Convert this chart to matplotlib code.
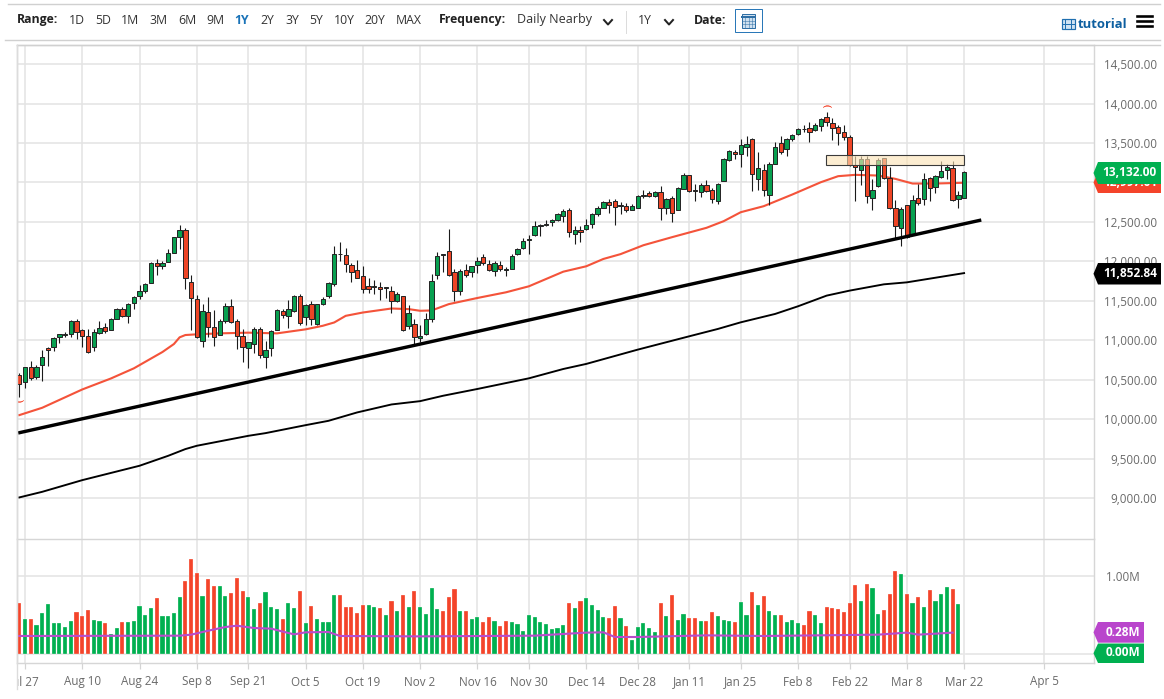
import matplotlib
matplotlib.use("Agg")
import matplotlib.pyplot as plt
from matplotlib.patches import Rectangle, Polygon
from matplotlib.transforms import Bbox, IdentityTransform, TransformedBbox

plt.rcParams['font.family'] = ['Open Sans', 'DejaVu Sans']

opens = [10558,10478,10668,10541,10685,10900,10921,11040,11065,11078,
11251,11128,11061,10913,11099,11166,11132,11272,11402,11314,
11470,11567,11622,11727,11976,11947,11989,12103,12314,12398,
11736,11521,10997,11364,11175,11073,11251,11440,11242,11052,
10909,10951,11149,10795,10904,11137,11377,11310,11369,11559,
11297,11461,11208,11461,11557,11717,12089,12080,11954,11895,
11819,11696,11675,11683,11667,11629,11494,11561,11177,11211,
11029,11076,11266,11831,12076,12139,11861,11629,11895,11861,
11958,12059,11971,11878,11958,11890,11911,12097,12169,12274,
12333,12452,12464,12494,12527,12578,12658,12342,12393,12409,
12473,12603,12679,12751,12764,12705,12705,12658,12679,12835,
12865,12835,12886,12679,12801,12654,12924,13092,12911,12881,
12974,12911,12772,13025,13287,13392,13367,13455,13552,13046,
13152,12848,13232,13502,13426,13557,13616,13675,13696,13662,
13713,13831,13755,13700,13641,13578,13223,13164,13303,12801,
12953,13312,13059,12679,12430,12713,12354,12810,12789,13055,
12945,13067,13160,13181,12797,12806]
closes = [10445,10664,10525,10664,10786,10879,11035,11078,11082,11251,
11111,11061,10858,11111,11162,11124,11276,11398,11314,11466,
11550,11622,11715,11985,11943,11981,12103,12306,12403,11787,
11537,11048,11377,11166,11048,11251,11440,11238,11061,10913,
10976,11141,10820,10875,11124,11381,11322,11394,11567,11217,
11453,11267,11457,11529,11726,12097,12101,11970,11873,11793,
11650,11658,11692,11650,11675,11494,11586,11127,11342,11046,
11059,11266,11759,12072,12089,11823,11624,11882,11827,11937,
12004,11975,11895,11979,11903,11903,12072,12152,12257,12287,
12452,12460,12477,12527,12599,12641,12367,12401,12367,12464,
12599,12671,12751,12717,12684,12717,12654,12705,12831,12848,
12835,12881,12683,12793,12611,12928,13097,12890,12894,12970,
12898,12797,12983,13295,13396,13358,13472,13489,13105,13181,
12907,13236,13451,13392,13548,13599,13683,13683,13641,13730,
13806,13768,13696,13628,13574,13223,13190,13303,12827,12911,
13282,13055,12679,12451,12666,12312,12784,12738,13046,12932,
13076,13143,13190,12776,12844,13132]
highs = [10584,10664,10740,10689,10879,10921,11048,11082,11107,11259,
11267,11141,11141,11149,11251,11217,11284,11411,11419,11478,
11563,11698,11732,11993,12031,12010,12154,12306,12457,12420,
11829,11571,11461,11550,11386,11276,11470,11521,11267,11149,
10980,11166,11166,10997,11132,11394,11394,11512,11575,11584,
11461,11504,11466,11546,11740,12190,12245,12173,11987,12013,
11945,11785,11768,11734,11683,11692,11616,11561,11447,11270,
11202,11346,11840,12114,12097,12409,11903,11911,11971,11945,
12055,12093,12021,12004,12008,11924,12089,12165,12300,12333,
12511,12469,12527,12536,12620,12662,12671,12443,12452,12544,
12612,12705,12772,12789,12789,12755,12738,12722,12840,12911,
12898,12890,12953,12806,12827,12945,13122,13101,12978,12995,
13029,12928,12995,13312,13409,13409,13552,13595,13565,13392,
13232,13257,13510,13586,13565,13620,13696,13730,13763,13755,
13818,13898,13818,13730,13734,13607,13341,13333,13341,13046,
13312,13316,13198,12784,12692,12721,12848,12983,13114,13071,
13101,13274,13232,13266,12890,13143]
lows = [10288,10394,10499,10508,10491,10681,10871,10972,11048,11048,
11023,10921,10837,10871,11082,11090,11128,11267,11293,11217,
11402,11521,11597,11723,11829,11909,11989,12103,12162,11651,
11132,11027,10921,11048,10930,11069,11217,11217,10896,10731,
10647,10837,10774,10647,10803,11132,11289,11153,11360,11200,
11196,11191,11200,11453,11537,11692,12008,11861,11743,11785,
11599,11599,11586,11515,11544,11346,11481,11122,11143,10953,
10975,11067,11236,11776,11869,11810,11502,11574,11798,11798,
11852,11958,11882,11810,11882,11819,11903,12080,12156,12097,
12317,12325,12452,12452,12511,12502,12312,12224,12241,12401,
12426,12578,12671,12620,12468,12603,12629,12646,12671,12806,
12818,12818,12523,12607,12497,12649,12919,12881,12763,12818,
12877,12742,12725,13017,13278,13303,13190,13333,12890,12903,
12827,12721,13228,13367,13341,13523,13607,13637,13514,13650,
13650,13713,13544,13476,13544,13215,12763,12974,12742,12658,
12945,13046,12666,12299,12202,12299,12341,12713,12721,12768,
12869,13059,13046,12763,12683,12801]

volumes = [.658,.449,.449,.372,.521,.637,.393,.397,.350,.423,
.538,.487,.564,.436,.419,.402,.252,.329,.415,.406,
.419,.620,.500,.585,.714,.491,.483,.521,.731,.940,
1.214,1.034,.744,.962,.876,.868,.744,.782,.974,.803,
.731,.577,.658,.795,.603,.573,.449,.650,.585,.808,
.402,.615,.444,.406,.410,.761,.756,.598,.598,.530,
.624,.624,.603,.585,.504,.675,.551,.752,.607,.803,
.603,.513,.846,.581,.556,.735,.838,.547,.556,.449,
.474,.406,.479,.423,.359,.427,.406,.389,.299,.496,
.470,.406,.380,.325,.329,.372,.654,.590,.675,.718,
.628,.564,.474,.462,.611,.457,.359,.175,.346,.393,
.333,.282,.654,.487,.756,.436,.509,.457,.462,.419,
.419,.543,.483,.440,.423,.410,.667,.504,.791,.624,
.744,.551,.496,.500,.410,.432,.393,.368,.556,.496,
.397,.607,.590,.577,.538,.650,.880,.675,.897,.846,
.517,.568,.765,1.060,1.026,.765,.658,.731,.603,.816,
.684,.769,.855,.829,.641,0]
vol_dirs = ("rgrggggggg" "rrrggrggrg" "ggggrggggr" "rrgrrggrrr" "ggrgggrggr"
            "grggggrrrr" "rggrgrgrgr" "ggggrrrgrg" "grrgrrgggg" "ggggggrgrg"
            "gggrrgrggg" "ggrgrggrrg" "rrgggrggrg" "rggrgggrrg" "grrrrrrgrg"
            "grrrgrgrgr" "gggrgg")

ma50_bars = [0,4,11,16,20,25,27,28,29,31,35,40,45,50,53,55,57,60,65,68,70,72,75,80,85,89,95,99,102,105,109,
             114,120,123,126,130,135,140,143,146,150,153,156,160,165]
ma50_vals = [10055,10148,10380,10519,10647,10854,10955,11040,11069,11078,11090,11099,11090,11141,11186,11228,
             11312,11354,11405,11397,11376,11380,11460,11538,11610,11686,11871,11939,12032,12093,12206,
             12308,12426,12510,12624,12700,12848,13004,13080,13097,13088,13046,12987,12987,12997]
# long average
ma200_bars = [0,4,11,21,26,29,31,40,43,50,54,59,65,70,74,80,89,95,99,108,117,122,126,132,136,141,145,151,155,165]
ma200_vals = [9013,9084,9232,9414,9540,9625,9667,9793,9827,9928,9983,10089,10190,10232,10300,10386,10521,10639,
              10703,10884,11053,11146,11230,11336,11433,11568,11631,11711,11736,11853]
# volume average
volma_bars = [0,28,30,33,36,38,41,44,47,48,50,54,56,70,90,99,102,104,108,120,130,150,155,157,163]
volma_vals = [.231,.235,.248,.299,.346,.363,.333,.325,.269,.252,.278,.282,.231,.226,.235,.274,.278,.218,.218,.239,.231,.248,.274,.248,.274]

trend_bars = [-0.2, 168]
trend_vals = [9829, 12525]
box_bars = [140.9, 165]
box_vals = [13223, 13350]

tick_bars = [1,11,21,31,40,50,60,70,80,89,99,108,117,126,136,145,155,165,179]
tick_labels = ['Jul 27','Aug 10','Aug 24','Sep 8','Sep 21','Oct 5','Oct 19','Nov 2','Nov 16','Nov 30',
               'Dec 14','Dec 28','Jan 11','Jan 25','Feb 8','Feb 22','Mar 8','Mar 22','Apr 5']
price_ticks = [9000,9500,10000,10500,11000,11500,12000,12500,13000,13500,14000,14500]

RED = '#f4442a'
GREEN = '#00b050'
GRID = '#e4e4e4'
TEXT = '#6a6a6a'
W, H = 1164, 699
PX = 0.72  # one pixel in points

fig = plt.figure(figsize=(W/100, H/100), dpi=100)
ax = fig.add_axes([17/W, (H-539)/H, (1094-17)/W, (539-45)/H])
vax = fig.add_axes([17/W, (H-663)/H, (1094-17)/W, (663-539)/H])
xlim = ((17-19.3)/5.726, (1094-19.3)/5.726)

# price panel
bars = range(len(opens))
body_cols = ['#08a050' if c >= o else '#ee4526' for o, c in zip(opens, closes)]
ax.plot(ma50_bars, ma50_vals, color='#f4533a', lw=2.1*PX, zorder=2)
ax.plot(ma200_bars, ma200_vals, color='black', lw=1.9*PX, zorder=2)
ax.vlines(bars, lows, highs, color='#1a1a1a', lw=1.1*PX, zorder=3)
ax.bar(bars, [abs(c-o) for o, c in zip(opens, closes)], bottom=[min(o, c) for o, c in zip(opens, closes)],
       width=0.76, color=body_cols, edgecolor='#262626', linewidth=1.0*PX, zorder=4)
ax.plot(trend_bars, trend_vals, color='black', lw=3.4*PX, zorder=5, solid_capstyle='butt')
ax.add_patch(Rectangle((box_bars[0], box_vals[0]), box_bars[1]-box_bars[0], box_vals[1]-box_vals[0],
                       facecolor='#fbe3b5', edgecolor='none', alpha=0.62, zorder=6))
ax.add_patch(Rectangle((box_bars[0], box_vals[0]), box_bars[1]-box_bars[0], box_vals[1]-box_vals[0],
                       facecolor='none', edgecolor='#3a3a3a', linewidth=1.1*PX, zorder=6))
# little high / low markers
ax.plot([141], [highs[141]+65], marker='$\\frown$', color=RED, ms=6, mew=0.3, zorder=5)
ax.plot([0], [lows[0]-60], marker='$\\smile$', color=RED, ms=6, mew=0.3, zorder=5)

ax.set_xlim(xlim)
ax.set_ylim(13000-356.5*12.66, 13000+137.5*12.66)
ax.set_xticks(tick_bars)
ax.set_yticks(price_ticks)
ax.set_yticklabels([f'{p:,.2f}' for p in price_ticks])
ax.yaxis.tick_right()
ax.tick_params(axis='x', length=0, labelbottom=False)
ax.tick_params(axis='y', length=0, pad=63*PX, labelsize=8.4, labelcolor=TEXT)
for t in ax.get_yticklabels():
    t.set_ha('right')
ax.grid(True, color=GRID, lw=1.6*PX)
ax.set_axisbelow(True)

# volume panel
vol_cols = [RED if d == 'r' else GREEN for d in vol_dirs]
vax.bar(bars, volumes, width=0.72, color=vol_cols, edgecolor='white', linewidth=0.2, zorder=3)
vax.plot(volma_bars, volma_vals, color='#b84ccc', lw=2.1*PX, zorder=4)
vax.set_xlim(xlim)
vax.set_ylim(-9/78, 115/78)
vax.set_xticks(tick_bars)
vax.set_xticklabels(tick_labels)
vax.set_yticks([0, 1])
vax.set_yticklabels(['', '1.00M'])
vax.yaxis.tick_right()
vax.tick_params(axis='x', length=4, width=1.2*PX, color='#d4d4d4', labelsize=8.4, labelcolor=TEXT, pad=5)
vax.tick_params(axis='y', length=0, pad=12*PX, labelsize=8.4, labelcolor=TEXT)
vax.grid(True, color=GRID, lw=1.6*PX)
vax.set_axisbelow(True)
clip = TransformedBbox(Bbox([[17, 0], [W, H]]), IdentityTransform())
vax.get_xticklabels()[0].set_clip_box(clip)
vax.get_xticklabels()[0].set_clip_on(True)

for a in (ax, vax):
    for name, s in a.spines.items():
        s.set_color('#d6d6d6')
        s.set_linewidth(1.4*PX)
ax.spines['bottom'].set_visible(False)

# overlay in pixels for the toolbar and price tags
ui = fig.add_axes([0, 0, 1, 1])
ui.set_xlim(0, W)
ui.set_ylim(H, 0)
ui.axis('off')
ui.patch.set_visible(False)

def badge(y, top, bot, right, label, color, z):
    ui.add_patch(Polygon([(1093.5, (top+bot)/2), (1098, top), (right, top), (right, bot), (1098, bot)],
                         closed=True, facecolor=color, edgecolor='none', zorder=z))
    ui.text(right-4, y, label, color='white', fontsize=8.6, fontweight='bold', ha='right', va='center', zorder=z+0.5)

badge(183, 172, 193, 1161, '12,997.01', RED, 5)
badge(172.5, 162, 184, 1161, '13,132.00', GREEN, 6)
badge(273.5, 263, 284.5, 1161, '11,852.84', 'black', 5)
badge(632, 622, 642.7, 1144, '0.28M', '#b945cc', 5)
badge(653, 643.5, 663, 1144, '0.00M', GREEN, 5)

# lines of the toolbar
for y, x0 in [(4, 8), (39.5, 5), (45, 17)]:
    ui.plot([x0, 1160], [y, y], color='#d0d0d0', lw=1.4*PX)
ui.plot([16.5, 16.5], [45, 689], color='#dcdcdc', lw=1.4*PX)
ui.plot([626, 626], [11, 33], color='#dcdcdc', lw=1*PX)

ui.text(17, 20, 'Range:', fontsize=8.8, fontweight='bold', color='#222222', ha='left', va='center')
for cx, s in [(77,'1D'),(103,'5D'),(130,'1M'),(158,'3M'),(187,'6M'),(215,'9M'),(267,'2Y'),(292,'3Y'),
              (316,'5Y'),(344,'10Y'),(375,'20Y'),(409,'MAX')]:
    ui.text(cx, 20, s, fontsize=8.8, color='#333333', ha='center', va='center')
ui.text(242, 20, '1Y', fontsize=8.8, fontweight='bold', color='#1a73b8', ha='center', va='center')
ui.text(439, 20, 'Frequency:', fontsize=8.8, fontweight='bold', color='#222222', ha='left', va='center')
ui.text(517, 20, 'Daily Nearby', fontsize=9, color='#333333', ha='left', va='center')
ui.text(645, 20, '1Y', fontsize=8.8, color='#333333', ha='center', va='center')
ui.text(694, 20, 'Date:', fontsize=8.8, fontweight='bold', color='#222222', ha='left', va='center')
for cx in (608, 669):
    ui.plot([cx-4, cx, cx+4], [20, 24.5, 20], color='#222222', lw=2*PX)

# calendar button
ui.add_patch(Rectangle((735, 9), 27, 23, facecolor='white', edgecolor='#2a78b8', lw=1*PX))
ui.add_patch(Rectangle((742, 14), 13, 14, facecolor='#cfe0ef', edgecolor='#2f6fa5', lw=1*PX))
ui.plot([742, 755], [17, 17], color='#2f6fa5', lw=2*PX)
for gx in (745, 748.5, 752):
    ui.plot([gx, gx], [17, 28], color='#2f6fa5', lw=0.5*PX)
for gy in (20.5, 24):
    ui.plot([742, 755], [gy, gy], color='#2f6fa5', lw=0.5*PX)

# tutorial link
ui.add_patch(Rectangle((1061.5, 18.5), 13, 10.5, facecolor='#cfe3f3', edgecolor='#1f6fb0', lw=1.2*PX))
for gx in (1065, 1071):
    ui.plot([gx, gx], [18.5, 29], color='#1f6fb0', lw=1*PX)
ui.plot([1061.5, 1074.5], [23.7, 23.7], color='#1f6fb0', lw=1*PX)
ui.text(1078, 24.5, 'tutorial', fontsize=9.4, fontweight='bold', color='#0d5fa0', ha='left', va='center')
for y in (16, 21, 26):
    ui.plot([1137, 1152], [y, y], color='black', lw=2.6*PX)

fig.savefig('out.png', dpi=100)
